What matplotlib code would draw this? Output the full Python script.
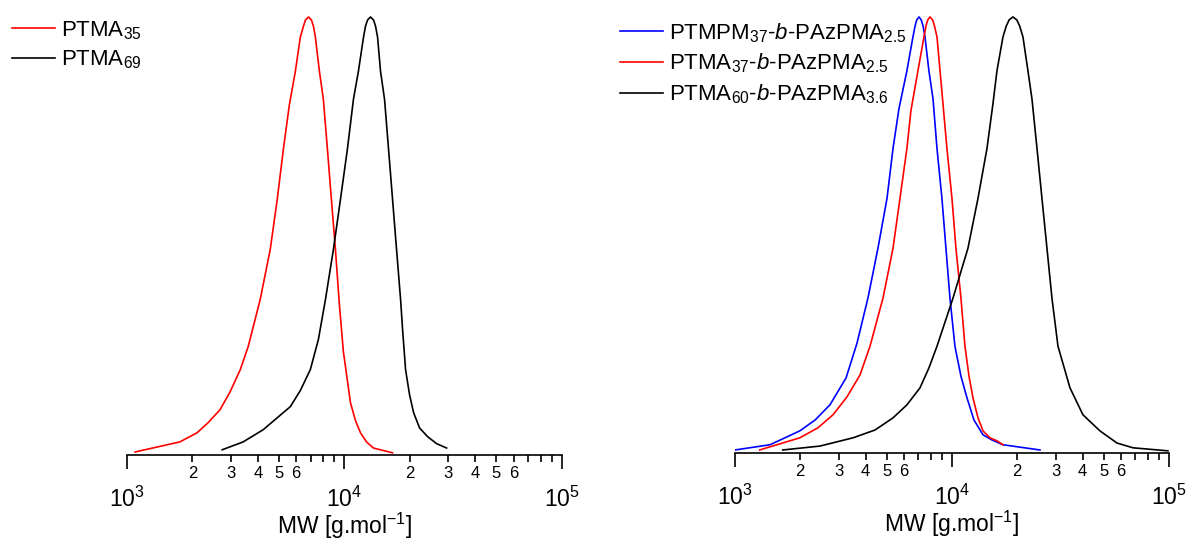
import matplotlib
matplotlib.use("Agg")
import matplotlib.pyplot as plt
from matplotlib.ticker import FixedLocator, FixedFormatter

plt.rcParams['font.family'] = 'Liberation Sans'
plt.rcParams['mathtext.fontset'] = 'custom'
plt.rcParams['mathtext.rm'] = 'Liberation Sans'
plt.rcParams['mathtext.it'] = 'Liberation Sans:italic'
plt.rcParams['mathtext.bf'] = 'Liberation Sans:bold'

# Left panel: homopolymers (MW in g/mol, normalised RI signal)
ptma35_mw = [1090, 1750, 2100, 2360, 2680, 2980, 3320, 3610, 4100, 4560, 4910, 5240,
             5580, 5950, 6270, 6480, 6620, 6830, 7050, 7200, 7350, 7670, 8000, 8350,
             8710, 9090, 9480, 9890, 10660, 11240, 11850, 12630, 13600, 16640]
ptma35_int = [0.002, 0.025, 0.046, 0.069, 0.099, 0.140, 0.191, 0.244, 0.352, 0.467,
              0.582, 0.697, 0.798, 0.876, 0.954, 0.979, 0.993, 1.0, 0.993, 0.979,
              0.954, 0.876, 0.811, 0.697, 0.582, 0.467, 0.340, 0.232, 0.115, 0.074,
              0.046, 0.025, 0.011, 0.0]

ptma69_mw = [2740, 3420, 4230, 5640, 6270, 6970, 7590, 8180, 8900, 9590, 10320, 11000,
             11600, 12240, 12500, 12770, 13180, 13610, 13900, 14200, 14650, 15290,
             15950, 16640, 17360, 18120, 18510, 19100, 19930, 20800, 22160, 24130,
             26550, 29500]
ptma69_int = [0.007, 0.025, 0.053, 0.106, 0.143, 0.191, 0.260, 0.352, 0.467, 0.582,
              0.697, 0.811, 0.876, 0.954, 0.979, 0.993, 1.0, 0.993, 0.979, 0.954,
              0.876, 0.811, 0.697, 0.582, 0.467, 0.352, 0.283, 0.191, 0.133, 0.092,
              0.057, 0.037, 0.021, 0.011]

# Right panel: block copolymers
ptmpm37_mw = [1000, 1450, 1990, 2340, 2740, 3250, 3650, 4100, 4560, 5020, 5350, 5700,
              6200, 6610, 6760, 6880, 7050, 7220, 7360, 7510, 7830, 8180, 8530, 8990,
              9380, 9790, 10320, 11000, 11730, 12630, 13900, 15290, 17180, 25440]
ptmpm37_int = [0.002, 0.014, 0.046, 0.071, 0.106, 0.168, 0.248, 0.352, 0.467, 0.582,
               0.697, 0.789, 0.876, 0.954, 0.979, 0.993, 1.0, 0.993, 0.979, 0.954,
               0.876, 0.811, 0.697, 0.582, 0.467, 0.352, 0.241, 0.172, 0.122, 0.071,
               0.037, 0.025, 0.014, 0.002]

ptma37_mw = [1300, 1990, 2410, 2830, 3280, 3770, 4190, 4810, 5350, 5760, 6200, 6470,
             6970, 7430, 7590, 7730, 7920, 8150, 8310, 8530, 8810, 9090, 9480, 10000,
             10430, 11000, 11480, 11980, 12500, 13180, 13900, 14970, 16120, 17180]
ptma37_int = [0.002, 0.030, 0.053, 0.083, 0.124, 0.175, 0.241, 0.352, 0.467, 0.582,
              0.697, 0.784, 0.876, 0.954, 0.979, 0.993, 1.0, 0.993, 0.979, 0.954,
              0.876, 0.800, 0.697, 0.582, 0.467, 0.352, 0.241, 0.172, 0.122, 0.076,
              0.046, 0.030, 0.023, 0.014]

ptma60_mw = [1660, 2465, 3500, 4420, 5350, 6200, 7120, 7830, 8530, 10110, 11850, 13180,
             14500, 15450, 16120, 17180, 17790, 18330, 19100, 19910, 20510, 21240,
             22390, 23370, 24650, 25980, 27400, 28890, 30800, 34990, 40150, 48080,
             57600, 68260, 98900]
ptma60_int = [0.002, 0.011, 0.030, 0.048, 0.076, 0.106, 0.145, 0.191, 0.241, 0.352,
              0.467, 0.582, 0.697, 0.800, 0.876, 0.954, 0.979, 0.993, 1.0, 0.993,
              0.979, 0.954, 0.876, 0.811, 0.697, 0.582, 0.467, 0.352, 0.241, 0.145,
              0.083, 0.046, 0.018, 0.007, 0.0]

major_ticks = [1e3, 1e4, 1e5]
major_labels = ['$10^{3}$', '$10^{4}$', '$10^{5}$']
minor_ticks = [k * 10 ** n for n in (3, 4) for k in range(2, 10)]
minor_labels = [str(k) if k <= 6 else '' for n in (3, 4) for k in range(2, 10)]


def style_axis(ax):
    ax.set_xscale('log')
    ax.set_xlim(1e3, 1e5)
    ax.set_ylim(-0.005, 1.016)
    for side in ('left', 'right', 'top'):
        ax.spines[side].set_visible(False)
    ax.spines['bottom'].set_linewidth(1.2)
    ax.set_yticks([])
    ax.xaxis.set_major_locator(FixedLocator(major_ticks))
    ax.xaxis.set_major_formatter(FixedFormatter(major_labels))
    ax.xaxis.set_minor_locator(FixedLocator(minor_ticks))
    ax.xaxis.set_minor_formatter(FixedFormatter(minor_labels))
    ax.tick_params(axis='x', which='major', direction='out', length=10, width=1.2,
                   labelsize=16.5, pad=12.5)
    ax.tick_params(axis='x', which='minor', direction='out', length=5, width=1.2,
                   labelsize=12, pad=3)
    ax.set_xlabel('MW [g.mol$^{-1}$]', fontsize=16.5)
    ax.xaxis.set_label_coords(0.5, -0.125)


fig = plt.figure(figsize=(11.91, 5.40), dpi=100)
ax1 = fig.add_axes([0.1066, 0.1574, 0.3652, 0.8241])
ax2 = fig.add_axes([0.6171, 0.1611, 0.3644, 0.8204])

ax1.plot(ptma35_mw, ptma35_int, color='#ff0000', lw=1.2, label='PTMA$_{35}$')
ax1.plot(ptma69_mw, ptma69_int, color='black', lw=1.2, label='PTMA$_{69}$')
style_axis(ax1)

ax2.plot(ptmpm37_mw, ptmpm37_int, color='#0000ff', lw=1.2,
         label='PTMPM$_{37}$-$b$-PAzPMA$_{2.5}$')
ax2.plot(ptma37_mw, ptma37_int, color='#ff0000', lw=1.2,
         label='PTMA$_{37}$-$b$-PAzPMA$_{2.5}$')
ax2.plot(ptma60_mw, ptma60_int, color='black', lw=1.2,
         label='PTMA$_{60}$-$b$-PAzPMA$_{3.6}$')
style_axis(ax2)

leg_kw = dict(loc='upper left', frameon=False, fontsize=16, handlelength=1.95,
              handletextpad=0.25, labelspacing=0.32, borderpad=0, borderaxespad=0,
              bbox_transform=fig.transFigure)
ax1.legend(bbox_to_anchor=(12 / 1191, 1 - 19 / 540), **leg_kw)
ax2.legend(bbox_to_anchor=(620 / 1191, 1 - 21 / 540), **leg_kw)

fig.savefig('out.png', dpi=100)
